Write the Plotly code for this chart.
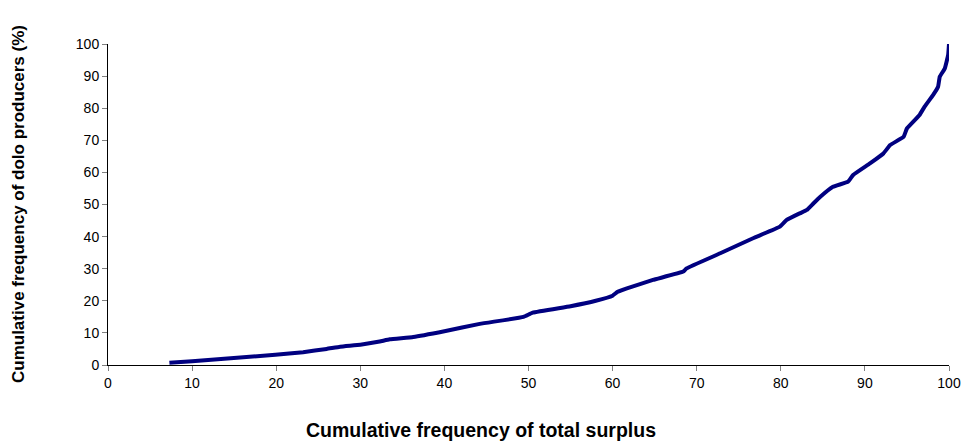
import plotly.graph_objects as go

surplus_cum = [7.3, 10.0, 19.9, 23.2, 26.0, 27.6, 30.0, 32.3, 33.5, 36.3, 40.0, 44.2, 49.4, 50.5,
               55.0, 58.0, 60.0, 60.6, 61.7, 64.8, 68.4, 68.8, 72.8, 76.7, 79.9, 80.7, 82.3, 83.1,
               83.9, 84.7, 86.2, 88.0, 88.6, 90.6, 92.2, 93.0, 94.6, 95.0, 96.5, 97.1, 98.1, 98.7,
               98.9, 99.5, 99.9, 100.0]
producers_cum = [0.7, 1.2, 3.2, 4.0, 5.0, 5.7, 6.3, 7.3, 8.0, 8.7, 10.5, 12.8, 15.0, 16.3,
                 18.3, 20.0, 21.6, 22.8, 23.9, 26.5, 29.1, 30.1, 34.8, 39.5, 43.1, 45.2, 47.3, 48.3,
                 50.4, 52.4, 55.5, 57.1, 59.2, 62.8, 65.9, 68.5, 71.1, 73.7, 77.9, 80.5, 84.1, 86.7,
                 89.8, 92.4, 96.6, 100.0]

x_title = "Cumulative frequency of total surplus"
y_title = "Cumulative frequency of dolo producers (%)"

FONT = "Liberation Sans, Arial, sans-serif"

fig = go.Figure()
fig.add_trace(go.Scatter(x=surplus_cum, y=producers_cum, mode="lines",
                         line=dict(color="#000080", width=4, shape="spline", smoothing=0.3),
                         showlegend=False, hoverinfo="skip"))

axis_common = dict(showgrid=False, zeroline=False, showline=True, linecolor="black", linewidth=1,
                   ticks="outside", ticklen=5, tickcolor="#808080", tickwidth=1, automargin=False,
                   tickfont=dict(family=FONT, size=14, color="black"))

fig.update_xaxes(range=[0, 100], tickvals=list(range(0, 101, 10)), **axis_common)
fig.update_yaxes(range=[0, 100], tickvals=list(range(0, 101, 10)), **axis_common)

fig.update_layout(
    width=964, height=447,
    margin=dict(l=108, r=15, t=44, b=82),
    paper_bgcolor="white", plot_bgcolor="white",
    annotations=[
        dict(text="<b>" + x_title + "</b>", xref="paper", yref="paper", x=0.4435, y=-0.2025,
             xanchor="center", yanchor="middle", showarrow=False,
             font=dict(family=FONT, size=19.5, color="black")),
        dict(text="<b>" + y_title + "</b>", xref="paper", yref="paper", x=-0.1064, y=0.5,
             xanchor="center", yanchor="middle", textangle=-90, showarrow=False,
             font=dict(family=FONT, size=17, color="black")),
    ],
)

fig.write_html("out.html", config={"displayModeBar": False},
               post_script="document.body.style.margin='0';")
